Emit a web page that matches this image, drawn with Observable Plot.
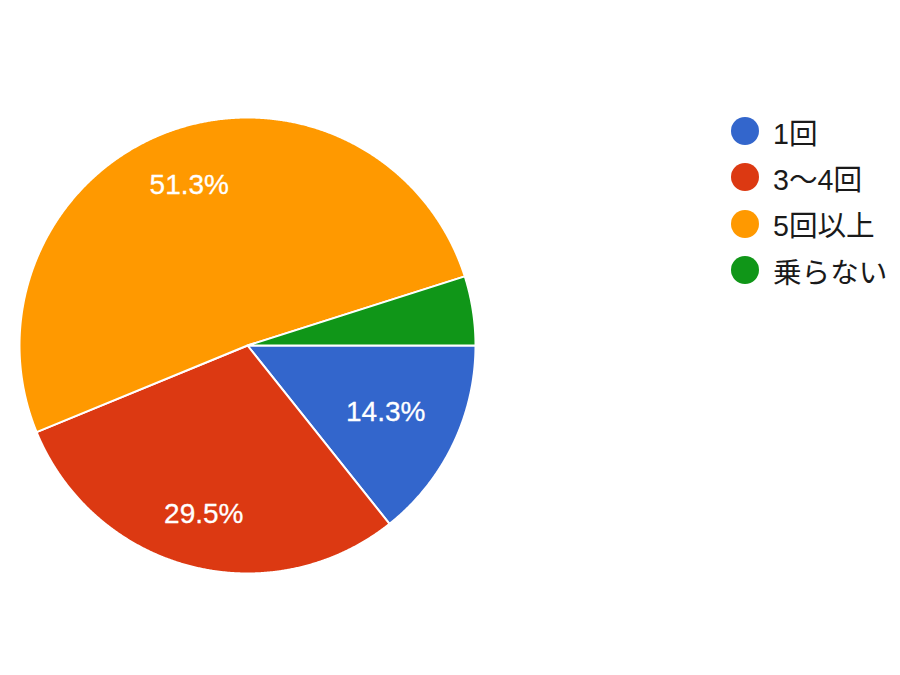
<!DOCTYPE html>
<html>
<head>
<meta charset="utf-8">
<script src="https://cdn.jsdelivr.net/npm/d3@7"></script>
<script src="https://cdn.jsdelivr.net/npm/@observablehq/plot@0.6"></script>
<style>
  html, body { margin: 0; padding: 0; background: #fff; }
  #wrap { position: relative; width: 900px; height: 675px; overflow: hidden; }
  #legend { position: absolute; left: 731px; top: 108px; font-family: "Liberation Sans", Arial, "Noto Sans CJK JP", sans-serif; font-size: 28.6px; color: #1a1a1a; }
  .item { display: flex; align-items: center; height: 46.3px; }
  .sw { width: 28px; height: 28px; border-radius: 50%; margin-right: 14px; flex: none; }
</style>
</head>
<body>
<div id="wrap"><div id="legend"></div></div>
<script>
const categories = ["1回", "3〜4回", "5回以上", "乗らない"];
const values = [14.3, 29.5, 51.3, 4.9];
const colors = ["#3366cc", "#dc3912", "#ff9900", "#109618"];

// pie geometry (angles clockwise from 3 o'clock)
const total = d3.sum(values);
const R = 228;
let acc = 0;
const slices = categories.map((c, i) => {
  const a0 = acc / total * 2 * Math.PI;
  acc += values[i];
  const a1 = acc / total * 2 * Math.PI;
  return {category: c, value: values[i], a0, a1};
});

// outline vertices of each slice (geometry of the arc)
const outline = [];
for (const s of slices) {
  outline.push({category: s.category, x: 0, y: 0});
  const n = Math.max(2, Math.ceil((s.a1 - s.a0) / (Math.PI / 720)));
  for (let k = 0; k <= n; k++) {
    const a = s.a0 + (s.a1 - s.a0) * k / n;
    outline.push({category: s.category, x: Math.cos(a), y: -Math.sin(a)});
  }
  outline.push({category: s.category, x: 0, y: 0});
}

// label placement
const ctx = document.createElement("canvas").getContext("2d");
ctx.font = "28px 'Liberation Sans', Arial";
const labels = slices.filter(s => s.value / total >= 0.06).map(s => {
  const text = s.value.toFixed(1) + "%";
  const m = (s.a0 + s.a1) / 2;
  const hw = ctx.measureText(text).width / 2, hh = 10.5;
  const d = (0.85 * R - (hw * Math.abs(Math.cos(m)) + hh * Math.abs(Math.sin(m)))) / R;
  return {text, x: d * Math.cos(m), y: -d * Math.sin(m)};
});

const chart = Plot.plot({
  width: 900,
  height: 675,
  x: {domain: [-1, 1], range: [19, 475], axis: null},
  y: {domain: [-1, 1], range: [573, 117], axis: null},
  color: {domain: categories, range: colors},
  style: {background: "white"},
  marks: [
    Plot.line(outline, {x: "x", y: "y", z: "category", fill: "category", stroke: "white", strokeWidth: 2, strokeLinejoin: "round", curve: "linear"}),
    Plot.text(labels, {x: "x", y: "y", text: "text", fill: "white", fontSize: 28, fontFamily: "'Liberation Sans', Arial, sans-serif", stroke: "white", strokeWidth: 0.3})
  ]
});
document.getElementById("wrap").prepend(chart);

const legend = d3.select("#legend");
categories.forEach((c, i) => {
  const it = legend.append("div").attr("class", "item");
  it.append("div").attr("class", "sw").style("background", colors[i]);
  it.append("span").text(c);
});
</script>
</body>
</html>
